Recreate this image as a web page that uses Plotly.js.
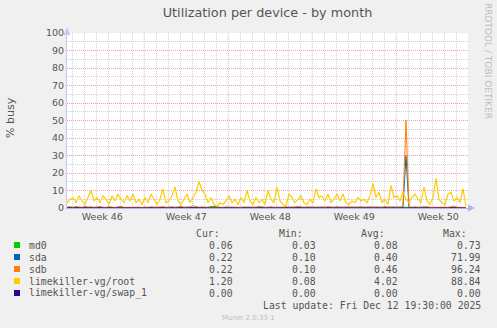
<!DOCTYPE html>
<html><head><meta charset="utf-8">
<script src="https://cdn.plot.ly/plotly-3.0.1.min.js"></script>
<style>html,body{margin:0;padding:0;background:#f0f0f0;}#chart{width:497px;height:328px;}</style>
</head><body><div id="chart"></div>
<script>
const seriesNames = ["md0","sda","sdb","limekiller-vg/root","limekiller-vg/swap_1"];
const seriesColors = ["#00CC00","#0066B3","#FF8000","#FFCC00","#330099"];
const curVals = ["0.06","0.22","0.22","1.20","0.00"];
const minVals = ["0.03","0.10","0.10","0.08","0.00"];
const avgVals = ["0.08","0.40","0.46","4.02","0.00"];
const maxVals = ["0.73","71.99","96.24","88.84","0.00"];
const weekLabels = ["Week 46","Week 47","Week 48","Week 49","Week 50"];
const weekCenters = [2.94, 9.94, 16.94, 23.94, 30.94];   // days from left edge
const weekStarts = [6.44, 13.44, 20.44, 27.44];
const sampleStepDays = 0.25;
const rangeDays = 33.42;

const md0 = [0.08,0.1,0.07,0.12,0.09,0.08,0.1,0.07,0.09,0.11,
0.08,0.1,0.09,0.07,0.12,0.08,0.06,0.1,0.09,0.08,
0.07,0.1,0.08,0.09,0.11,0.07,0.08,0.1,0.09,0.08,
0.1,0.07,0.09,0.08,0.12,0.09,0.07,0.1,0.08,0.09,
0.07,0.1,0.08,0.09,0.11,0.08,0.1,0.3,0.9,1.0,
0.8,0.3,0.08,0.1,0.07,0.09,0.08,0.1,0.09,0.07,
0.08,0.1,0.09,0.08,0.11,0.07,0.09,0.08,0.1,0.08,
0.07,0.09,0.1,0.08,0.09,0.07,0.1,0.08,0.09,0.11,
0.08,0.07,0.09,0.1,0.08,0.09,0.07,0.1,0.08,0.09,
0.1,0.08,0.07,0.09,0.08,0.1,0.09,0.07,0.08,0.1,
0.09,0.08,0.1,0.07,0.09,0.08,0.12,0.09,0.08,0.1,
0.07,0.09,0.1,0.6,0.08,0.09,0.07,0.1,0.08,0.09,
0.1,0.08,0.07,0.09,0.08,0.1,0.09,0.07,0.08,0.1,
0.09,0.08,0.07,0.06];
const sda = [0.3,0.4,0.2,0.5,0.3,0.2,0.4,0.3,0.4,0.2,
0.3,0.5,0.3,0.2,0.4,0.3,0.2,0.4,0.5,0.2,
0.3,0.4,0.2,0.4,0.3,0.2,0.3,0.2,0.4,0.3,
0.2,0.3,0.4,0.2,0.3,0.4,0.2,0.3,0.5,0.3,
0.2,0.4,0.6,0.4,0.3,0.3,0.2,0.3,0.2,0.2,
0.2,0.3,0.2,0.3,0.3,0.2,0.4,0.3,0.2,0.3,
0.3,0.4,0.2,0.3,0.5,0.3,0.2,0.3,0.4,0.2,
0.3,0.3,0.2,0.4,0.3,0.2,0.3,0.5,0.3,0.2,
0.3,0.3,0.4,0.2,0.3,0.3,0.2,0.4,0.3,0.2,
0.4,0.3,0.2,0.3,0.3,0.4,0.2,0.3,0.3,0.2,
0.3,0.4,0.2,0.3,0.3,0.2,0.5,0.3,0.3,0.2,
0.3,0.3,0.4,30,0.3,0.3,0.4,0.2,0.3,0.3,
0.4,0.2,0.3,0.3,0.2,0.4,0.3,0.2,0.3,0.5,
0.3,0.2,0.3,0.2];
const sdb = [0.5,0.8,0.4,0.9,0.6,0.4,1.0,0.5,0.7,0.4,
0.6,0.9,0.5,0.4,0.8,0.5,0.3,0.7,0.9,0.4,
0.5,0.6,0.4,0.8,0.5,0.3,0.6,0.4,0.7,0.5,
0.4,0.6,0.8,0.4,0.5,0.7,0.4,0.6,0.9,0.5,
0.4,0.7,1.2,0.8,0.5,0.6,0.4,0.5,0.3,0.4,
0.3,0.5,0.4,0.6,0.5,0.4,0.7,0.5,0.4,0.6,
0.5,0.8,0.4,0.5,1.0,0.6,0.4,0.5,0.7,0.4,
0.6,0.5,0.4,0.8,0.5,0.4,0.6,0.9,0.5,0.4,
0.6,0.5,0.7,0.4,0.5,0.6,0.4,0.8,0.5,0.4,
0.7,0.5,0.4,0.6,0.5,0.8,0.4,0.5,0.6,0.4,
0.5,0.7,0.4,0.6,0.5,0.4,0.9,0.5,0.6,0.4,
0.5,0.6,0.8,50,0.6,0.5,0.7,0.4,0.6,0.5,
0.8,0.4,0.5,0.6,0.4,0.7,0.5,0.4,0.6,1.1,
0.5,0.4,0.6,0.3];
const root = [3,5,6,3,7,4,2,6,10,4,
6,3,7,5,2,7,4,8,5,3,
7,4,8,3,5,2,6,3,8,5,
2,5,11,3,4,7,12,4,2,5,
8,3,6,9,15,10,8,3,6,2,
1,3,2,4,7,3,5,2,6,3,
10,4,2,6,3,5,2,10,5,3,
12,4,2,1,8,6,3,5,7,3,
2,5,3,11,6,7,4,8,3,5,
8,4,8,3,2,4,3,6,4,5,
3,7,14,6,9,3,5,2,13,6,
7,4,9,5,3,6,8,5,3,12,
4,2,6,17,5,3,2,8,9,4,
6,3,11,1];
const swap1 = [0,0,0,0,0,0,0,0,0,0,0,0,0,0,0,0,0,0,0,0,
0,0,0,0,0,0,0,0,0,0,0,0,0,0,0,0,0,0,0,0,
0,0,0,0,0,0,0,0,0,0,0,0,0,0,0,0,0,0,0,0,
0,0,0,0,0,0,0,0,0,0,0,0,0,0,0,0,0,0,0,0,
0,0,0,0,0,0,0,0,0,0,0,0,0,0,0,0,0,0,0,0,
0,0,0,0,0,0,0,0,0,0,0,0,0,0,0,0,0,0,0,0,
0,0,0,0,0,0,0,0,0,0,0,0,0,0];

const seriesData = [md0, sda, sdb, root, swap1];
const times = root.map((_, i) => i * sampleStepDays);

const traces = seriesData.map((vals, k) => ({
  x: times, y: vals, type: 'scatter', mode: 'lines', name: seriesNames[k],
  line: {color: seriesColors[k], width: k === 3 ? 1.2 : 1}, hoverinfo: 'skip'
}));

// layout geometry (pixels)
const L = 67, T = 33, W = 401, H = 175;
const px = v => (v - L) / W;
const py = v => (T + H - v) / H;

const mono = {family: 'DejaVu Sans Mono', size: 9.8, color: '#555555'};
const ann = [];
const shapes = [];
ann.push({xref:'paper', yref:'paper', x: px(10), y: py(118), text: '% busy', textangle: -90,
  showarrow: false, xanchor: 'center', yanchor: 'middle', font: {family: 'DejaVu Sans', size: 11, color: '#555555'}});
ann.push({xref:'paper', yref:'paper', x: px(488), y: py(61), text: 'RRDTOOL / TOBI OETIKER', textangle: 90,
  showarrow: false, xanchor: 'center', yanchor: 'middle', font: {family: 'DejaVu Sans', size: 9, color: '#bdbdbd'}});
const headers = ['Cur:', 'Min:', 'Avg:', 'Max:'];
const headerRight = [222, 305, 387, 469];
const colRight = [235, 318, 400, 483];
headers.forEach((h, j) => ann.push({xref:'paper', yref:'paper', x: px(headerRight[j]), y: py(233), text: h,
  showarrow: false, xanchor: 'right', yanchor: 'middle', font: mono}));
const cols = [curVals, minVals, avgVals, maxVals];
seriesNames.forEach((name, k) => {
  const rowY = 245 + k * 12;
  shapes.push({type:'rect', xref:'paper', yref:'paper', x0: px(14), x1: px(20), y0: py(rowY + 3), y1: py(rowY - 3),
    fillcolor: seriesColors[k], line: {width: 0}});
  ann.push({xref:'paper', yref:'paper', x: px(26.5), y: py(rowY), text: name, showarrow: false,
    xanchor: 'left', yanchor: 'middle', font: mono});
  cols.forEach((c, j) => ann.push({xref:'paper', yref:'paper', x: px(colRight[j]), y: py(rowY), text: c[k],
    showarrow: false, xanchor: 'right', yanchor: 'middle', font: mono}));
});
ann.push({xref:'paper', yref:'paper', x: px(483), y: py(305), text: 'Last update: Fri Dec 12 19:30:00 2025',
  showarrow: false, xanchor: 'right', yanchor: 'middle', font: mono});
ann.push({xref:'paper', yref:'paper', x: px(248), y: py(318), text: 'Munin 2.0.33-1',
  showarrow: false, xanchor: 'center', yanchor: 'middle', font: {family: 'DejaVu Sans', size: 7, color: '#bdbdbd'}});

// week boundary grid lines
weekStarts.forEach(d => shapes.push({type:'line', xref:'x', yref:'paper', x0: d, x1: d, y0: 0, y1: 1,
  layer: 'below', line: {color: '#f0a0a0', width: 1, dash: '1px,1px'}}));
// axis arrows
shapes.push({type:'path', xref:'paper', yref:'paper',
  path: `M ${px(63.5)} ${py(35)} L ${px(70.5)} ${py(35)} L ${px(67)} ${py(27)} Z`,
  fillcolor: '#c8c8f4', line: {width: 0}});
shapes.push({type:'path', xref:'paper', yref:'paper',
  path: `M ${px(468)} ${py(204.5)} L ${px(468)} ${py(211.5)} L ${px(475)} ${py(208)} Z`,
  fillcolor: '#b8b0ee', line: {width: 0}});

const layout = {
  width: 497, height: 328,
  margin: {l: L, r: 497 - L - W, t: T, b: 328 - T - H, pad: 0},
  paper_bgcolor: '#f0f0f0', plot_bgcolor: '#ffffff',
  showlegend: false,
  title: {text: 'Utilization per device - by month', x: 0.5, xref: 'paper', xanchor: 'center', y: 1 - 13/328, yanchor: 'middle',
    font: {family: 'DejaVu Sans', size: 12.8, color: '#555555'}},
  xaxis: {range: [0, rangeDays], tickmode: 'array', tickvals: weekCenters, ticktext: weekLabels,
    showgrid: false, zeroline: false, ticks: '', ticklen: 0,
    showline: true, linecolor: '#b8b0ee', linewidth: 1,
    tickfont: {family: 'DejaVu Sans', size: 9.5, color: '#555555'},
    minor: {tickmode: 'linear', tick0: 0.44, dtick: 1, showgrid: true, gridcolor: '#cfcfcf', griddash: '1px,1px', gridwidth: 1, ticks: ''},
    fixedrange: true},
  yaxis: {range: [0, 100], tickmode: 'linear', tick0: 0, dtick: 10,
    showgrid: true, gridcolor: '#f0a0a0', griddash: '1px,1px', gridwidth: 1, zeroline: false,
    showline: true, linecolor: '#c8c8f4', linewidth: 1, ticks: '', ticklen: 0,
    tickfont: {family: 'DejaVu Sans', size: 9.5, color: '#555555'},
    minor: {tickmode: 'linear', tick0: 0, dtick: 5, showgrid: true, gridcolor: '#cfcfcf', griddash: '1px,1px', gridwidth: 1, ticks: ''},
    fixedrange: true},
  annotations: ann,
  shapes: shapes
};
Plotly.newPlot('chart', traces, layout, {staticPlot: true, displayModeBar: false});
</script>
</body></html>
